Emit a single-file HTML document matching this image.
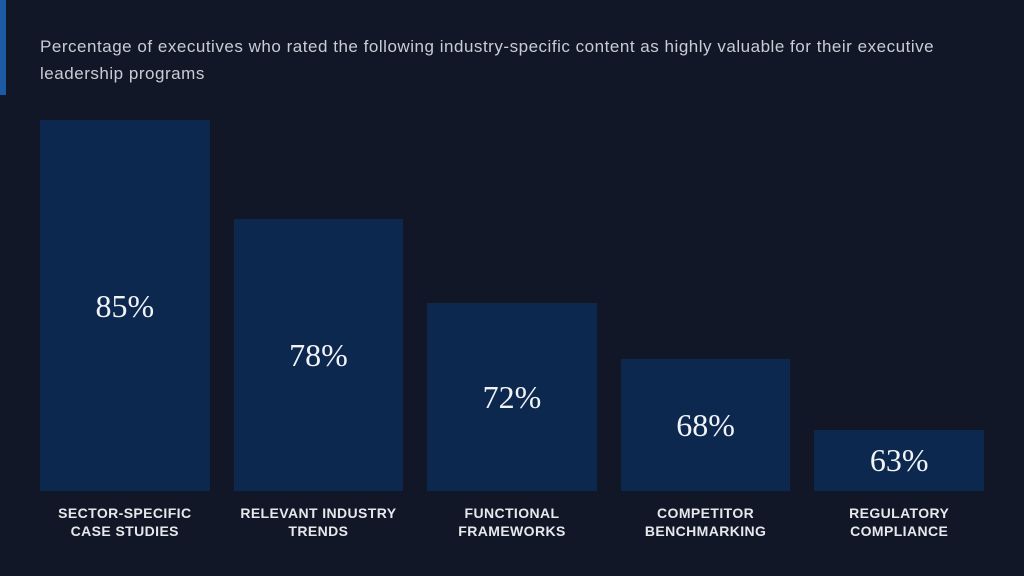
<!DOCTYPE html>
<html>
<head>
<meta charset="utf-8">
<style>
  html, body { margin:0; padding:0; }
  body { width:1024px; height:576px; background:#111726; position:relative; overflow:hidden; font-family:"Liberation Sans", Arial, sans-serif; }
  .accent { position:absolute; left:0; top:0; width:6px; height:95px; background:#1b5aa5; }
  .title { position:absolute; left:40px; top:32.5px; width:980px; font-size:17px; line-height:27px; color:#c8cdd5; letter-spacing:0.52px; white-space:nowrap; }
  .bar { position:absolute; width:169.6px; background:#0c284e; display:flex; align-items:center; justify-content:center; }
  .val { font-family:"Liberation Serif", "DejaVu Serif", serif; font-size:32px; color:#f1f3f6; line-height:1; }
  .cat { position:absolute; top:503.6px; width:200px; text-align:center; font-weight:bold; font-size:14px; line-height:18.3px; letter-spacing:0.4px; color:#e6e8ec; }
</style>
</head>
<body>
<div class="accent"></div>
<div class="title">Percentage of executives who rated the following industry-specific content as highly valuable for their executive<br>leadership programs</div>

<div class="bar" style="left:40px; top:120px; height:371px;"><span class="val">85%</span></div>
<div class="bar" style="left:233.6px; top:218.5px; height:272.5px;"><span class="val">78%</span></div>
<div class="bar" style="left:427.2px; top:303px; height:188px;"><span class="val">72%</span></div>
<div class="bar" style="left:620.8px; top:359px; height:132px;"><span class="val">68%</span></div>
<div class="bar" style="left:814.4px; top:429.5px; height:61.5px;"><span class="val">63%</span></div>

<div class="cat" style="left:24.8px;">SECTOR-SPECIFIC<br>CASE STUDIES</div>
<div class="cat" style="left:218.4px;">RELEVANT INDUSTRY<br>TRENDS</div>
<div class="cat" style="left:412px;">FUNCTIONAL<br>FRAMEWORKS</div>
<div class="cat" style="left:605.6px;">COMPETITOR<br>BENCHMARKING</div>
<div class="cat" style="left:799.2px;">REGULATORY<br>COMPLIANCE</div>
</body>
</html>
